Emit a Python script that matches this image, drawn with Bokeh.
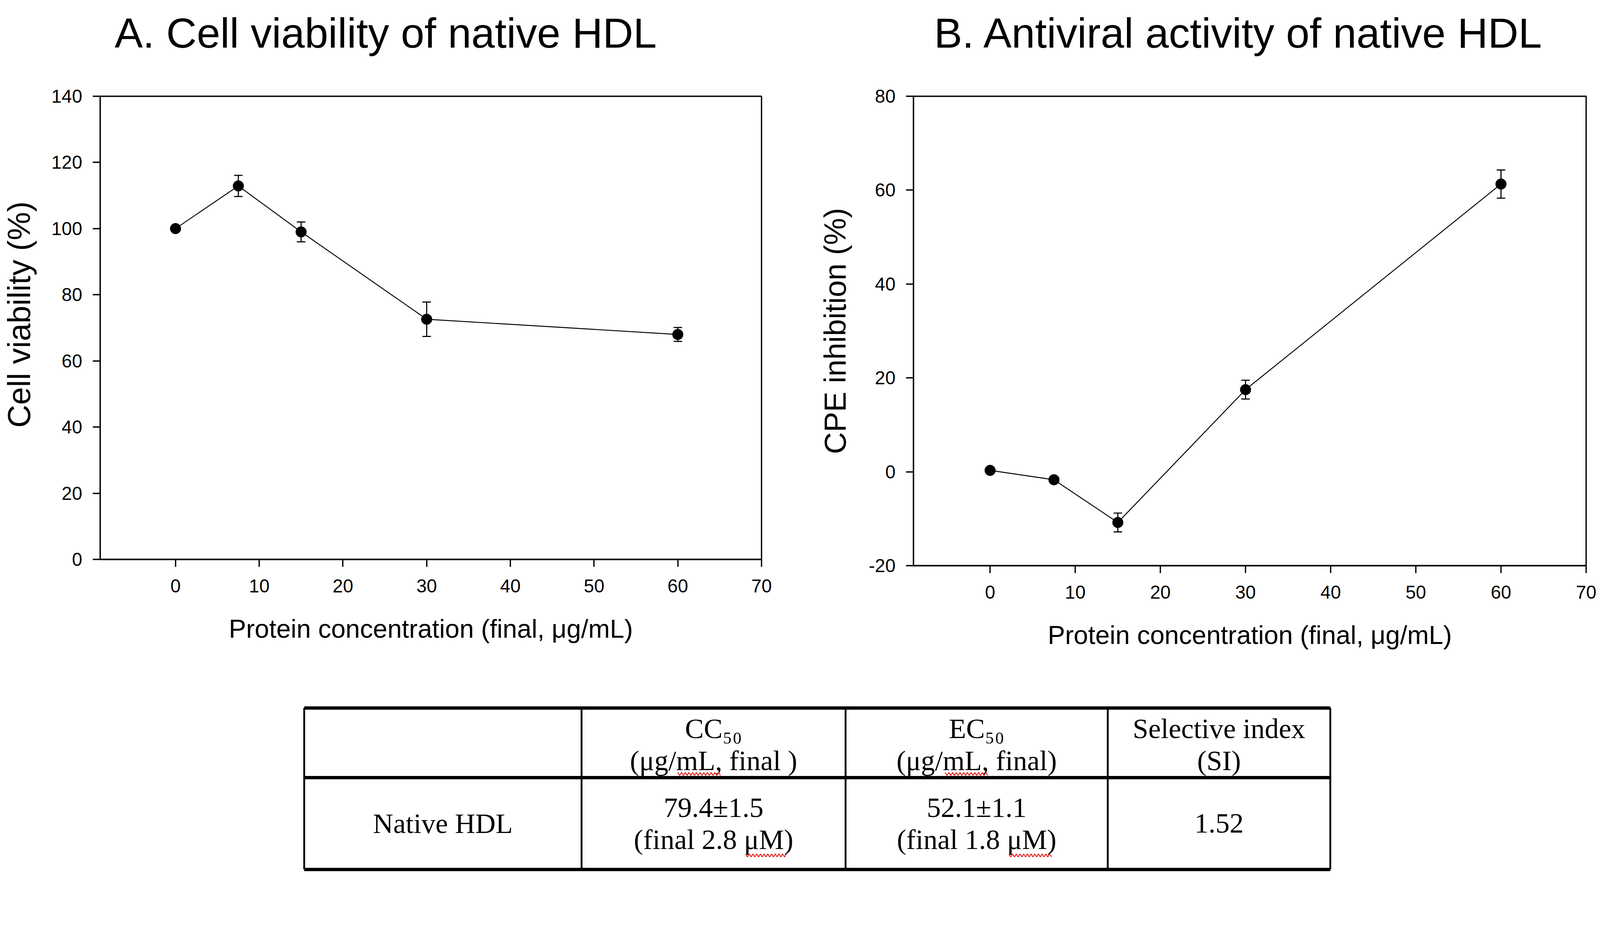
from bokeh.plotting import figure
from bokeh.models import ColumnDataSource, Whisker, TeeHead, Range1d, FixedTicker
from bokeh.layouts import column, row
from bokeh.embed import file_html
from bokeh.resources import INLINE
from bokeh.core.properties import value

# ---------------- data ----------------
concentration = [0, 7.5, 15, 30, 60]
cell_viability = [100.0, 112.9, 99.0, 72.6, 68.0]
cell_viability_err = [0.6, 3.2, 3.0, 5.2, 2.1]
cpe_inhibition = [0.3, -1.7, -10.8, 17.5, 61.3]
cpe_inhibition_err = [0.6, 0.7, 2.0, 2.0, 3.0]

x_ticks = [0, 10, 20, 30, 40, 50, 60, 70]
y_ticks_a = [0, 20, 40, 60, 80, 100, 120, 140]
y_ticks_b = [-20, 0, 20, 40, 60, 80]

title_a = "A. Cell viability of native HDL"
title_b = "B. Antiviral activity of native HDL"
x_label = "Protein concentration (final, \u03bcg/mL)"
y_label_a = "Cell viability (%)"
y_label_b = "CPE inhibition (%)"

table_header = [[""], ["CC\u2085\u2080", "(\u03bcg/mL, final )"], ["EC\u2085\u2080", "(\u03bcg/mL, final)"],
                ["Selective index", "(SI)"]]
table_row = [["Native HDL"], ["79.4\u00b11.5", "(final 2.8 \u03bcM)"], ["52.1\u00b11.1", "(final 1.8 \u03bcM)"],
             ["1.52"]]

SANS = "Liberation Sans"
SERIF = "Liberation Serif"

K = 1 / 1.055   # page scale correction
PAGE_W = 4323
NBSP = "\u00a0"


def px(v):
    return v * K


def fs(v):
    return "%.1fpx" % (v * K)


def bare(p):
    p.grid.visible = False
    p.outline_line_color = None
    p.background_fill_color = "white"
    p.border_fill_color = "white"


# ---------------- title strip ----------------
TITLE_H = 200
pTitle = figure(width=round(px(PAGE_W)), height=round(px(TITLE_H)), x_range=Range1d(0, PAGE_W),
                y_range=Range1d(TITLE_H, 0), x_axis_type=None, y_axis_type=None,
                output_backend="svg", toolbar_location=None, min_border=0)
bare(pTitle)
pTitle.text(x=[309, 2522], y=[88, 88], text=[title_a, title_b], text_font=value(SANS),
            text_font_size=fs(114), text_align="left", text_baseline="alphabetic", text_color="black")


def make_panel(ylabel, ylabel_size, y, err, yrange, yticks, width, height, mb_left, mb_right,
               ylabel_standoff):
    p = figure(width=round(px(width)), height=round(px(height)), x_range=Range1d(-9, 70),
               y_range=Range1d(*yrange), output_backend="svg", toolbar_location=None,
               min_border_left=round(px(mb_left)), min_border_right=round(px(mb_right)),
               min_border_top=round(px(259 - TITLE_H)), min_border_bottom=round(px(280)))
    p.grid.visible = False
    p.outline_line_color = "black"
    p.outline_line_width = px(3.5)
    p.background_fill_color = "white"
    p.border_fill_color = "white"

    for ax in (p.xaxis[0], p.yaxis[0]):
        ax.axis_line_width = px(3.5)
        ax.axis_line_color = "black"
        ax.major_tick_in = 0
        ax.major_tick_out = round(px(20))
        ax.major_tick_line_width = px(3.5)
        ax.minor_tick_line_color = None
        ax.major_label_text_font = SANS
        ax.major_label_text_font_size = fs(50)
        ax.major_label_text_color = "black"
        ax.axis_label_text_font = SANS
        ax.axis_label_text_font_style = "normal"
        ax.axis_label_text_color = "black"

    p.xaxis.ticker = FixedTicker(ticks=x_ticks)
    p.yaxis.ticker = FixedTicker(ticks=yticks)
    p.yaxis.major_label_overrides = {t: str(t) for t in yticks if t < 0}
    p.xaxis.major_label_standoff = round(px(34))
    p.yaxis.major_label_standoff = round(px(28))
    p.xaxis.axis_label = x_label
    p.xaxis.axis_label_text_font_size = fs(70)
    p.xaxis.axis_label_standoff = round(px(56))
    p.yaxis.axis_label = ylabel
    p.yaxis.axis_label_text_font_size = fs(ylabel_size)
    p.yaxis.axis_label_standoff = round(px(ylabel_standoff))

    src = ColumnDataSource(dict(
        x=concentration, y=y,
        upper=[a + b for a, b in zip(y, err)],
        lower=[a - b for a, b in zip(y, err)],
    ))
    p.line("x", "y", source=src, line_width=px(2.5), line_color="black")
    w = Whisker(source=src, base="x", upper="upper", lower="lower", line_width=px(3), line_color="black",
                upper_head=TeeHead(size=px(23), line_width=px(3), line_color="black"),
                lower_head=TeeHead(size=px(23), line_width=px(3), line_color="black"))
    p.add_layout(w)
    p.scatter("x", "y", source=src, size=px(29), fill_color="black", line_color="black")
    return p


HA, HB = 1790 - TITLE_H, 1807 - TITLE_H
pA = make_panel(NBSP * 3 + y_label_a, 86, cell_viability, cell_viability_err, (0, 140), y_ticks_a,
                2162, HA, 270, 106, 36)
pB = make_panel(y_label_b, 82, cpe_inhibition, cpe_inhibition_err, (-20, 80), y_ticks_b,
                2161, HB, 305, 39, 42)

# ---------------- table ----------------
T0 = TITLE_H + max(HA, HB)          # top of the table strip in page units
TH = 2368 - T0
pT = figure(width=round(px(PAGE_W)), height=round(px(TH)), x_range=Range1d(0, PAGE_W),
            y_range=Range1d(T0 + TH, T0), x_axis_type=None, y_axis_type=None,
            output_backend="svg", toolbar_location=None, min_border=0)
bare(pT)

col_edges = [821, 1570, 2283, 2991, 3592]
row_edges = [1912, 2100, 2348]

pT.segment(x0=col_edges, y0=[row_edges[0]] * len(col_edges), x1=col_edges,
           y1=[row_edges[-1]] * len(col_edges), line_color="black", line_width=px(5))
pT.segment(x0=[col_edges[0]] * 3, y0=row_edges, x1=[col_edges[-1]] * 3, y1=row_edges,
           line_color="black", line_width=px(9))

tx, ty, tt = [], [], []
pitch = 87
row_shift = [5, 0]
for r, cells in enumerate([table_header, table_row]):
    yc = (row_edges[r] + row_edges[r + 1]) / 2
    for c, lines in enumerate(cells):
        xc = (col_edges[c] + col_edges[c + 1]) / 2
        n = len(lines)
        for i, s in enumerate(lines):
            if not s:
                continue
            tx.append(xc)
            ty.append(yc + (i - (n - 1) / 2) * pitch + row_shift[r])
            tt.append(s)

pT.text(x=tx, y=ty, text=tt, text_font=value(SERIF), text_font_size=fs(76),
        text_align="center", text_baseline="alphabetic", text_color="black")

# red spell-check squiggles under "mL" and "μM"
squiggle_spans = [(1830, 1947, 2090), (2552, 2669, 2090), (2013, 2126, 2310), (2724, 2839, 2310)]
sq_xs, sq_ys = [], []
for x0, x1, yb in squiggle_spans:
    xs, ys = [], []
    k = 0
    xx = x0
    while xx <= x1:
        xs.append(xx)
        ys.append(yb + (4 if k % 2 else -4))
        xx += 5
        k += 1
    sq_xs.append(xs)
    sq_ys.append(ys)
pT.multi_line(xs=sq_xs, ys=sq_ys, line_color="#e8211c", line_width=px(2.5))

layout = column(pTitle, row(pA, pB), pT)
open("out.html", "w").write(file_html(layout, INLINE))
